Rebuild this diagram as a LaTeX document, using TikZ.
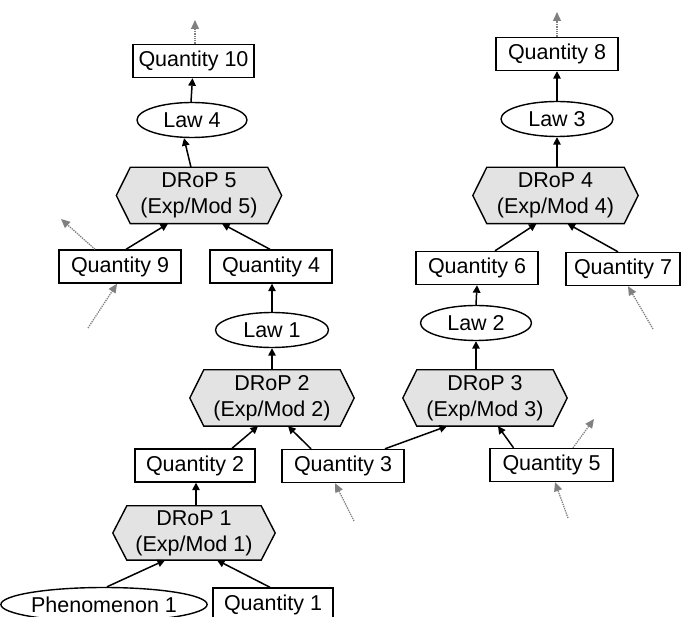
\documentclass[tikz,border=0pt]{standalone}
\usepackage{fontspec}
\setmainfont{Liberation Sans}
\usetikzlibrary{shapes.geometric,arrows.meta,backgrounds}
\begin{document}
\begin{tikzpicture}[x=1pt,y=-1pt,
  every node/.style={font=\fontsize{21.5}{26}\selectfont, inner sep=0pt, align=center},
  qbox/.style={draw, line width=1.4pt, minimum height=33pt},
  lawell/.style={draw, ellipse, line width=1.4pt, minimum height=35pt},
  hexbox/.style={minimum height=56pt},
  hexshape/.style={draw, fill=black!11, line width=1.4pt, line join=miter},
  conn/.style={line width=1.5pt, -{Triangle[length=7.5pt,width=7.5pt]}},
  ext/.style={draw=black!50, densely dotted, line width=1.3pt, -{Triangle[length=9pt,width=8pt,fill=black!50]}}
]
\useasboundingbox (0,0) rectangle (681,617);

% nodes
\node[qbox, minimum width=121pt] (q10) at (193.5,61) {Quantity 10};
\node[lawell, minimum width=110pt] (law4) at (192,120) {Law 4};
\node[hexbox, minimum width=137pt] (d5) at (199,195.5) {DRoP 5\\(Exp/Mod 5)};
\node[qbox, minimum width=122pt] (q9) at (120,266.5) {Quantity 9};
\node[qbox, minimum width=122pt] (q4) at (271,266.5) {Quantity 4};
\node[lawell, minimum width=113pt] (law1) at (272,330) {Law 1};
\node[hexbox, minimum width=136pt] (d2) at (272,398) {DRoP 2\\(Exp/Mod 2)};
\node[qbox, minimum width=120pt] (q2) at (195,465.5) {Quantity 2};
\node[qbox, minimum width=122pt] (q3) at (343,466) {Quantity 3};
\node[hexbox, minimum width=134pt, minimum height=54pt] (d1) at (194,533) {DRoP 1\\(Exp/Mod 1)};
\node[lawell, minimum width=190pt, minimum height=34pt] (ph1) at (104,604.5) {Phenomenon 1};
\node[qbox, minimum width=120pt] (q1) at (273,604.5) {Quantity 1};

\node[qbox, minimum width=122pt] (q8) at (557,54) {Quantity 8};
\node[lawell, minimum width=112pt] (law3) at (557,119) {Law 3};
\node[hexbox, minimum width=137pt] (d4) at (555.5,195.5) {DRoP 4\\(Exp/Mod 4)};
\node[qbox, minimum width=122pt] (q6) at (477,268) {Quantity 6};
\node[qbox, minimum width=114pt] (q7) at (623,269) {Quantity 7};
\node[lawell, minimum width=111pt] (law2) at (476,323) {Law 2};
\node[hexbox, minimum width=136pt] (d3) at (485,398) {DRoP 3\\(Exp/Mod 3)};
\node[qbox, minimum width=123pt] (q5) at (551.5,465) {Quantity 5};

% hexagons on background
\begin{scope}[on background layer]
\foreach \h in {d1,d2,d3,d4,d5}{
  \draw[hexshape] (\h.north west) -- (\h.north east) -- ([xshift=14pt]\h.east)
    -- (\h.south east) -- (\h.south west) -- ([xshift=-14pt]\h.west) -- cycle;
}
\end{scope}

% connectors
\draw[conn] ([xshift=-1pt]law4.north) -- ([xshift=-1pt]q10.south);
\draw[conn] ([xshift=-8pt]d5.north) -- ([xshift=-8pt]law4.south);
\draw[conn] ([xshift=6pt]q9.north) -- ([xshift=-31pt]d5.south);
\draw[conn] ([xshift=-1pt]q4.north) -- ([xshift=23pt]d5.south);
\draw[conn] (law1.north) -- ([xshift=1pt]q4.south);
\draw[conn] (d2.north) -- (law1.south);
\draw[conn] ([xshift=37pt]q2.north) -- ([xshift=-14pt]d2.south);
\draw[conn] ([xshift=-32pt]q3.north) -- ([xshift=16pt]d2.south);
\draw[conn] ([xshift=42pt]q3.north) -- ([xshift=-38pt]d3.south);
\draw[conn] ([xshift=-38pt]q5.north) -- ([xshift=13pt]d3.south);
\draw[conn] ([xshift=2pt]d1.north) -- ([xshift=1pt]q2.south);
\draw[conn] ([xshift=3pt]ph1.north) -- ([xshift=-29pt]d1.south);
\draw[conn] ([xshift=-3pt]q1.north) -- ([xshift=23pt]d1.south);

\draw[conn] (law3.north) -- (q8.south);
\draw[conn] ([xshift=1.5pt]d4.north) -- (law3.south);
\draw[conn] ([xshift=18pt]q6.north) -- ([xshift=-19pt]d4.south);
\draw[conn] ([xshift=-5pt]q7.north) -- ([xshift=12pt]d4.south);
\draw[conn] (law2.north) -- (q6.south);
\draw[conn] ([xshift=-9pt]d3.north) -- (law2.south);

% external dotted arrows
\coordinate (e10) at (195,20);
\coordinate (e8) at (557,12);
\coordinate (e9o) at (61,219);
\coordinate (e9i) at (88,328);
\coordinate (e7i) at (653,329);
\coordinate (e3i) at (354,521);
\coordinate (e5i) at (568,518);
\coordinate (e5o) at (594,419);
\draw[ext] ([xshift=1.5pt]q10.north) -- (e10);
\draw[ext] (q8.north) -- (e8);
\draw[ext] ([xshift=-25pt]q9.north) -- (e9o);
\draw[ext] (e9i) -- ([xshift=-3pt]q9.south);
\draw[ext] (e7i) -- ([xshift=5pt]q7.south);
\draw[ext] (e3i) -- ([xshift=-8pt]q3.south);
\draw[ext] (e5i) -- ([xshift=3.5pt]q5.south);
\draw[ext] ([xshift=21.5pt]q5.north) -- (e5o);
\end{tikzpicture}
\end{document}
